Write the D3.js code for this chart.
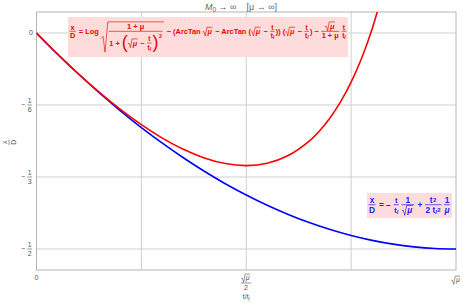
<!DOCTYPE html>
<html lang="en">
<script src="https://d3js.org/d3.v7.min.js"></script>
<head>
    <meta charset="UTF-8">
    <title>x/D</title>
    <style>
        body { margin: 0; background: #fff; }
        svg { display: block; font-family: "Liberation Sans", Arial, sans-serif; }
        svg text { white-space: pre; }
    </style>
</head>
<body>
    <svg width="463" height="307" id="chart"></svg>

    <script>
        const exactT = [0, 0.05, 0.1, 0.15, 0.2, 0.25, 0.3, 0.35, 0.4, 0.45, 0.5, 0.55, 0.6, 0.65, 0.675, 0.7, 0.725, 0.75, 0.775, 0.8, 0.825];
        const exactY = [0, -0.0487, -0.0946, -0.1375, -0.1769, -0.2123, -0.2433, -0.2692, -0.2892, -0.3022, -0.3069, -0.3015, -0.2837, -0.2502, -0.2261, -0.1960, -0.1590, -0.1137, -0.0584, 0.0094, 0.0930];
        const approxT = [0, 0.05, 0.1, 0.15, 0.2, 0.25, 0.3, 0.35, 0.4, 0.45, 0.5, 0.55, 0.6, 0.65, 0.7, 0.75, 0.8, 0.85, 0.9, 0.95, 1];
        const approxY = [0, -0.0488, -0.095, -0.1388, -0.18, -0.2188, -0.255, -0.2888, -0.32, -0.3488, -0.375, -0.3988, -0.42, -0.4388, -0.455, -0.4688, -0.48, -0.4888, -0.495, -0.4988, -0.5];
        const yTickVals = [0, -1/6, -1/3, -1/2];
        const yTickDen = [null, "6", "3", "2"];
        const xGridVals = [0.25, 0.5, 0.75];

        const svg = d3.select('#chart');
        const pLeft = 36.5, pRight = 456, pTop = 12, pBottom = 270;

        const x = d3.scaleLinear().domain([0, 1]).range([pLeft, pRight]);
        const y = d3.scaleLinear().domain([-0.5486, 0.0486]).range([pBottom, pTop]);

        // ---------- tiny math layout helpers ----------
        const FS = 7;
        function T(s, o = {}) {
            return (g, cx, cy) => {
                const size = o.size || FS;
                const t = g.append("text").attr("x", cx).attr("y", cy + (o.dy || 0) + size * 0.35)
                    .attr("font-size", size).text(s);
                if (o.it) t.attr("font-style", "italic");
                return t.node().getComputedTextLength() + (o.pad || 0);
            };
        }
        function Sp(w) { return () => w; }
        function R(...items) {
            return (g, cx, cy) => {
                let p = cx;
                items.forEach(f => p += f(g, p, cy));
                return p - cx;
            };
        }
        function place(item, g) {
            const gg = g.append("g");
            const w = item(gg, 0, 0);
            const b = gg.node().getBBox();
            return {gg, w, b};
        }
        function F(num, den) {
            return (g, cx, cy) => {
                const n = place(num, g), d = place(den, g);
                const w = Math.max(n.w, d.w) + 1.5;
                n.gg.attr("transform", `translate(${cx + (w - n.w) / 2},${cy - 0.6 - (n.b.y + n.b.height)})`);
                d.gg.attr("transform", `translate(${cx + (w - d.w) / 2},${cy + 0.6 - d.b.y})`);
                g.append("line").attr("x1", cx + 0.3).attr("x2", cx + w - 0.3)
                    .attr("y1", cy).attr("y2", cy)
                    .attr("stroke", "currentColor").attr("stroke-width", 0.6);
                return w + 0.6;
            };
        }
        function Q(inner) {
            return (g, cx, cy) => {
                const c = place(inner, g);
                const b = c.b;
                const t0 = cy + b.y - 0.3, b0 = cy + b.y + b.height;
                const h = b0 - t0;
                const rw = Math.min(7, 3 + h * 0.12);
                c.gg.attr("transform", `translate(${cx + rw + 0.6},${cy})`);
                g.append("path")
                    .attr("d", `M${cx},${b0 - h * 0.45} L${cx + rw * 0.3},${b0 - h * 0.52} L${cx + rw * 0.6},${b0} L${cx + rw},${t0} L${cx + rw + 1 + c.w},${t0}`)
                    .attr("fill", "none").attr("stroke", "currentColor").attr("stroke-width", 0.6);
                return rw + c.w + 1.6;
            };
        }
        function P(inner) {
            return (g, cx, cy) => {
                const c = place(inner, g);
                const size = Math.max(FS, c.b.height * 1.05);
                const o = g.append("text").attr("x", cx).attr("y", cy + size * 0.27)
                    .attr("font-size", size).attr("font-weight", "normal").text("(");
                const ow = o.node().getComputedTextLength();
                c.gg.attr("transform", `translate(${cx + ow},${cy})`);
                g.append("text").attr("x", cx + ow + c.w).attr("y", cy + size * 0.27)
                    .attr("font-size", size).attr("font-weight", "normal").text(")");
                return ow * 2 + c.w;
            };
        }
        function Sup(base, s) {
            return (g, cx, cy) => {
                const c = place(base, g);
                c.gg.attr("transform", `translate(${cx},${cy})`);
                const t = g.append("text").attr("x", cx + c.w + 0.3).attr("y", cy + c.b.y + FS * 0.75)
                    .attr("font-size", FS * 0.72).text(s);
                return c.w + 0.5 + t.node().getComputedTextLength();
            };
        }
        const tl = () => R(T("t"), T("l", {size: FS * 0.72, dy: 1.8, it: true}));
        const tt = () => F(T("t", {size: FS * 0.9}), R(T("t", {size: FS * 0.9}), T("l", {size: FS * 0.65, dy: 1.6, it: true})));
        const smu = () => Q(T("μ", {it: true}));
        const xD = () => F(T("x"), T("D"));

        function formula(item, box, col) {
            svg.append("rect")
                .attr("x", box[0]).attr("y", box[1]).attr("width", box[2]).attr("height", box[3])
                .attr("fill", "#ffdcdc");
            const g = svg.append("g").attr("fill", col).style("color", col)
                .attr("font-weight", "bold");
            const inner = g.append("g");
            item(inner, 0, 0);
            const b = inner.node().getBBox();
            const s = Math.min((box[2] - 3) / b.width, (box[3] - 2) / b.height);
            const tx = box[0] + (box[2] - b.width * s) / 2 - b.x * s;
            const ty = box[1] + (box[3] - b.height * s) / 2 - b.y * s;
            inner.attr("transform", `translate(${tx},${ty}) scale(${s})`);
        }

        // ---------- grid & frame ----------
        const grid = svg.append("g").attr("stroke", "#cfcfcf").attr("stroke-width", 1);
        xGridVals.forEach(v => {
            grid.append("line").attr("x1", x(v)).attr("x2", x(v)).attr("y1", pTop).attr("y2", pBottom);
        });
        yTickVals.forEach(v => {
            grid.append("line").attr("x1", pLeft).attr("x2", pRight).attr("y1", y(v)).attr("y2", y(v));
        });
        svg.append("rect").attr("x", pLeft).attr("y", pTop)
            .attr("width", pRight - pLeft).attr("height", pBottom - pTop)
            .attr("fill", "none").attr("stroke", "#b5b5b5").attr("stroke-width", 1);

        // ---------- curves ----------
        svg.append("clipPath").attr("id", "clip").append("rect")
            .attr("x", pLeft).attr("y", pTop).attr("width", pRight - pLeft).attr("height", pBottom - pTop);
        const line = d3.line().x(d => x(d[0])).y(d => y(d[1])).curve(d3.curveCatmullRom);
        svg.append("path").datum(d3.zip(approxT, approxY))
            .attr("d", line).attr("fill", "none").attr("stroke", "#0000ff")
            .attr("stroke-width", 1.6).attr("clip-path", "url(#clip)");
        svg.append("path").datum(d3.zip(exactT, exactY))
            .attr("d", line).attr("fill", "none").attr("stroke", "#ff0000")
            .attr("stroke-width", 1.6).attr("clip-path", "url(#clip)");

        // ---------- tick labels ----------
        const lab = svg.append("g").attr("fill", "#555").style("color", "#555");
        yTickVals.forEach((v, i) => {
            const gg = lab.append("g");
            const item = yTickDen[i] ? R(T("− "), F(T("1"), T(yTickDen[i]))) : T("0");
            const w = item(gg, 0, 0);
            gg.attr("transform", `translate(${pLeft - 3.5 - w},${y(v)})`);
        });
        {
            const g0 = lab.append("g");
            const w0 = T("0")(g0, 0, 0);
            g0.attr("transform", `translate(${x(0) - w0 / 2},${pBottom + 8})`);
            const g1 = lab.append("g");
            const w1 = F(smu(), T("2"))(g1, 0, 0);
            g1.attr("transform", `translate(${x(0.5) - w1 / 2},${pBottom + 13})`);
            const g2 = lab.append("g");
            const w2 = smu()(g2, 0, 0);
            g2.attr("transform", `translate(${x(1) - w2 / 2},${pBottom + 10})`);
            const g3 = lab.append("g");
            const w3 = R(T("t/"), T("t"), T("l", {size: FS * 0.72, dy: 1.8, it: true}))(g3, 0, 0);
            g3.attr("transform", `translate(${x(0.5) - w3 / 2},${pBottom + 27})`);
            const g4 = lab.append("g");
            const w4 = F(T("x"), T("D"))(g4, 0, 0);
            g4.attr("transform", `translate(9,${142 + w4 / 2}) rotate(-90)`);
        }

        // ---------- title ----------
        svg.append("text").attr("x", 241).attr("y", 10).attr("text-anchor", "middle")
            .attr("font-size", 9).attr("fill", "#666")
            .html('<tspan font-style="italic">M</tspan><tspan font-size="6.5" dy="2">0</tspan><tspan dy="-2"> → ∞    [μ → ∞]</tspan>');

        // ---------- formula boxes ----------
        formula(R(
            xD(), T(" = Log "),
            Q(F(T("1 + μ"), R(T("1 + "), Sup(P(R(smu(), T(" − "), tt())), "2")))),
            T(" − (ArcTan "), smu(), T(" − ArcTan ("), smu(), T(" − "), tt(), T(")) ("),
            smu(), T(" − "), tt(), T(") − "), F(smu(), T("1 + μ")), Sp(1), tt()
        ), [68, 17, 280, 40], "#ee0000");

        formula(R(
            xD(), T(" = − "), tt(), Sp(1), F(T("1"), smu()), T(" + "),
            F(Sup(T("t"), "2"), R(T("2 "), Sup(tl(), "2"))), Sp(1), F(T("1"), T("μ", {it: true}))
        ), [367, 193, 85, 25], "#2020ff");
    </script>
</body>
</html>
